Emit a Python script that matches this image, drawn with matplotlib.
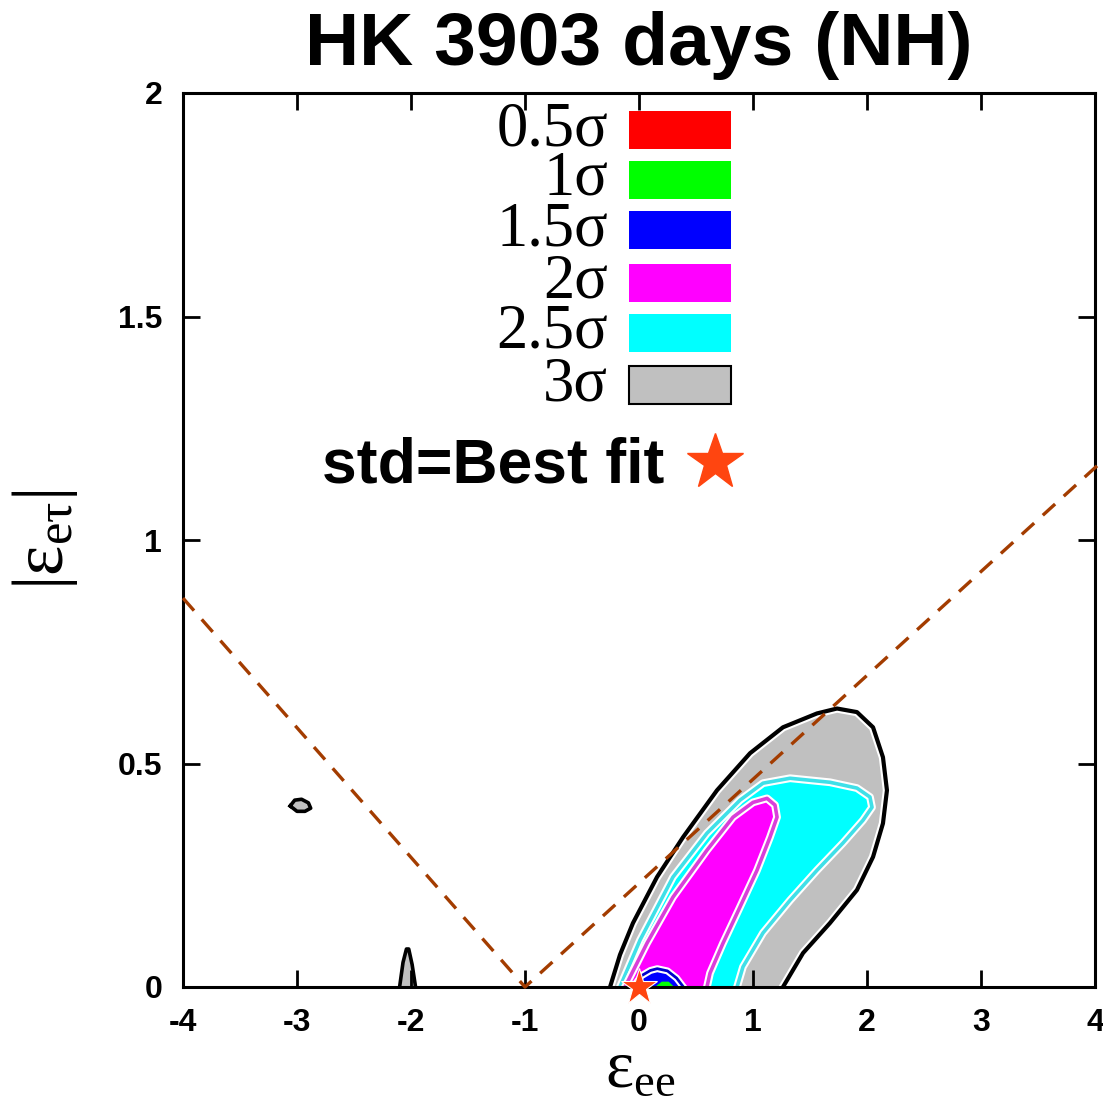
import numpy as np
import matplotlib
matplotlib.use("Agg")
import matplotlib.pyplot as plt
from matplotlib.patches import Rectangle

plt.rcParams['mathtext.fontset'] = 'custom'
plt.rcParams['mathtext.rm'] = 'Liberation Serif'
plt.rcParams['mathtext.it'] = 'Liberation Serif:italic'

# contour outlines (eps_ee, |eps_etau|)
sig3_x = [-0.254, -0.167, -0.053, 0.158, 0.386, 0.684, 0.974, 1.263, 1.561, 1.737, 1.912,
          2.053, 2.140, 2.175, 2.140, 2.053, 1.912, 1.675, 1.439, 1.263]
sig3_y = [0.0, 0.072, 0.143, 0.246, 0.335, 0.440, 0.523, 0.581, 0.612, 0.623, 0.615,
          0.581, 0.514, 0.440, 0.366, 0.291, 0.217, 0.143, 0.076, 0.0]

sig25_x = [-0.167, 0.009, 0.298, 0.596, 0.886, 1.088, 1.325, 1.675, 1.912, 2.026, 2.044,
           1.965, 1.789, 1.561, 1.325, 1.088, 0.912, 0.860]
sig25_y = [0.0, 0.105, 0.246, 0.344, 0.418, 0.456, 0.467, 0.458, 0.445, 0.425, 0.402,
           0.373, 0.322, 0.261, 0.194, 0.121, 0.045, 0.0]

sig2_x = [-0.123, 0.070, 0.298, 0.596, 0.825, 1.0, 1.123, 1.193, 1.211, 1.149, 1.035,
          0.886, 0.737, 0.623, 0.596]
sig2_y = [0.0, 0.098, 0.201, 0.306, 0.380, 0.413, 0.422, 0.407, 0.380, 0.335, 0.261,
          0.179, 0.098, 0.031, 0.0]

sig15_x = [-0.05, 0.02, 0.10, 0.16, 0.25, 0.33, 0.39]
sig15_y = [0.0, 0.025, 0.037, 0.041, 0.036, 0.020, 0.0]

sig1_x = [0.14, 0.20, 0.26, 0.31]
sig1_y = [0.0, 0.012, 0.012, 0.0]

# small isolated 3 sigma islands
island_x = [-3.06, -3.02, -2.96, -2.90, -2.88, -2.93, -3.00, -3.06]
island_y = [0.405, 0.418, 0.420, 0.412, 0.400, 0.393, 0.393, 0.405]
spike_x = [-2.10, -2.07, -2.04, -2.02, -1.99, -1.96]
spike_y = [0.0, 0.055, 0.085, 0.085, 0.05, 0.0]

# dashed boundary lines
bound_x = [-4.0, -1.0, 4.07]
bound_y = [0.87, 0.0, 1.178]

best_fit = (0.0, 0.0)

levels = ['0.5σ', '1σ', '1.5σ', '2σ', '2.5σ', '3σ']
level_colors = ['#ff0000', '#00ff00', '#0000ff', '#ff00ff', '#00ffff', '#c0c0c0']

fig = plt.figure(figsize=(11.03, 11.06), dpi=100)
ax = fig.add_axes([183 / 1103, 119 / 1106, 912 / 1103, 894 / 1106])

# filled regions
ax.fill(sig3_x, sig3_y, color='#c0c0c0', lw=0)
ax.fill(island_x, island_y, color='#c0c0c0', lw=0)
ax.fill(spike_x, spike_y, color='#c0c0c0', lw=0)
ax.fill(sig25_x, sig25_y, color='#00ffff', lw=0)
ax.fill(sig2_x, sig2_y, color='#ff00ff', lw=0)
ax.fill(sig15_x, sig15_y, color='#0000ff', lw=0)
ax.fill(sig1_x, sig1_y, color='#00ff00', lw=0)

# contour lines with a thin white halo
for xs, ys, c, lw in [(sig3_x, sig3_y, 'black', 3.0),
                      (sig25_x, sig25_y, '#3fe0e8', 2.6),
                      (sig2_x, sig2_y, '#d93fd9', 2.6),
                      (sig15_x, sig15_y, '#0000cc', 2.0)]:
    ax.plot(xs, ys, color='white', lw=lw + 3, solid_joinstyle='round')
    ax.plot(xs, ys, color=c, lw=lw, solid_joinstyle='round')
ax.plot(island_x, island_y, color='black', lw=2.6)
ax.plot(spike_x, spike_y, color='black', lw=2.6)

ax.plot(bound_x, bound_y, color='#a33c00', lw=2.4, ls=(0, (5, 3.5)), clip_on=False, zorder=5)

ax.plot(*best_fit, marker='*', color='#ff4510', markersize=28, markeredgecolor='white',
        markeredgewidth=0.8, clip_on=False, zorder=10)

ax.set_xlim(-4, 4)
ax.set_ylim(0, 2)
ax.set_xticks(np.arange(-4, 5, 1))
ax.set_yticks([0, 0.5, 1, 1.5, 2])
ax.set_xticklabels([str(v) for v in range(-4, 5)])
ax.set_yticklabels(['0', '0.5', '1', '1.5', '2'])
ax.tick_params(direction='in', length=12, width=2, top=True, right=True, pad=15,
               labelsize=23)
for lab in ax.get_xticklabels() + ax.get_yticklabels():
    lab.set_fontfamily('Liberation Sans')
    lab.set_fontweight('bold')
for sp in ax.spines.values():
    sp.set_linewidth(2.2)

# legend drawn by hand
row_y = [130, 180, 230, 283, 333, 385]
for lab, col, py in zip(levels, level_colors, row_y):
    fig.text(608 / 1103, 1 - py / 1106, lab, ha='right', va='center',
             fontfamily='Liberation Serif', fontsize=45)
    ec = 'black' if lab == '3σ' else 'none'
    fig.add_artist(Rectangle((629 / 1103, 1 - (py + 19) / 1106), 102 / 1103, 38 / 1106,
                             transform=fig.transFigure, facecolor=col, edgecolor=ec, lw=1.5))

fig.text(322 / 1103, 1 - 466 / 1106, 'std=Best fit', ha='left', va='center',
         fontfamily='Liberation Sans', fontweight='bold', fontsize=45)
fig.add_artist(plt.Line2D([715 / 1103], [1 - 462 / 1106], marker='*', color='#ff4510',
                          markersize=42, transform=fig.transFigure))

fig.text(639 / 1103, 1 - 45 / 1106, 'HK 3903 days (NH)', ha='center', va='center',
         fontfamily='Liberation Sans', fontweight='bold', fontsize=54)
fig.text(640 / 1103, 5 / 1106, r'$\mathrm{ε}_{\mathrm{ee}}$', ha='center',
         va='bottom', fontsize=48)
fig.text(45 / 1103, 1 - 540 / 1106, r'$|\mathrm{ε}_{\mathrm{eτ}}|$', ha='center',
         va='center', rotation=90, fontsize=52)

fig.savefig('out.png', dpi=100)
